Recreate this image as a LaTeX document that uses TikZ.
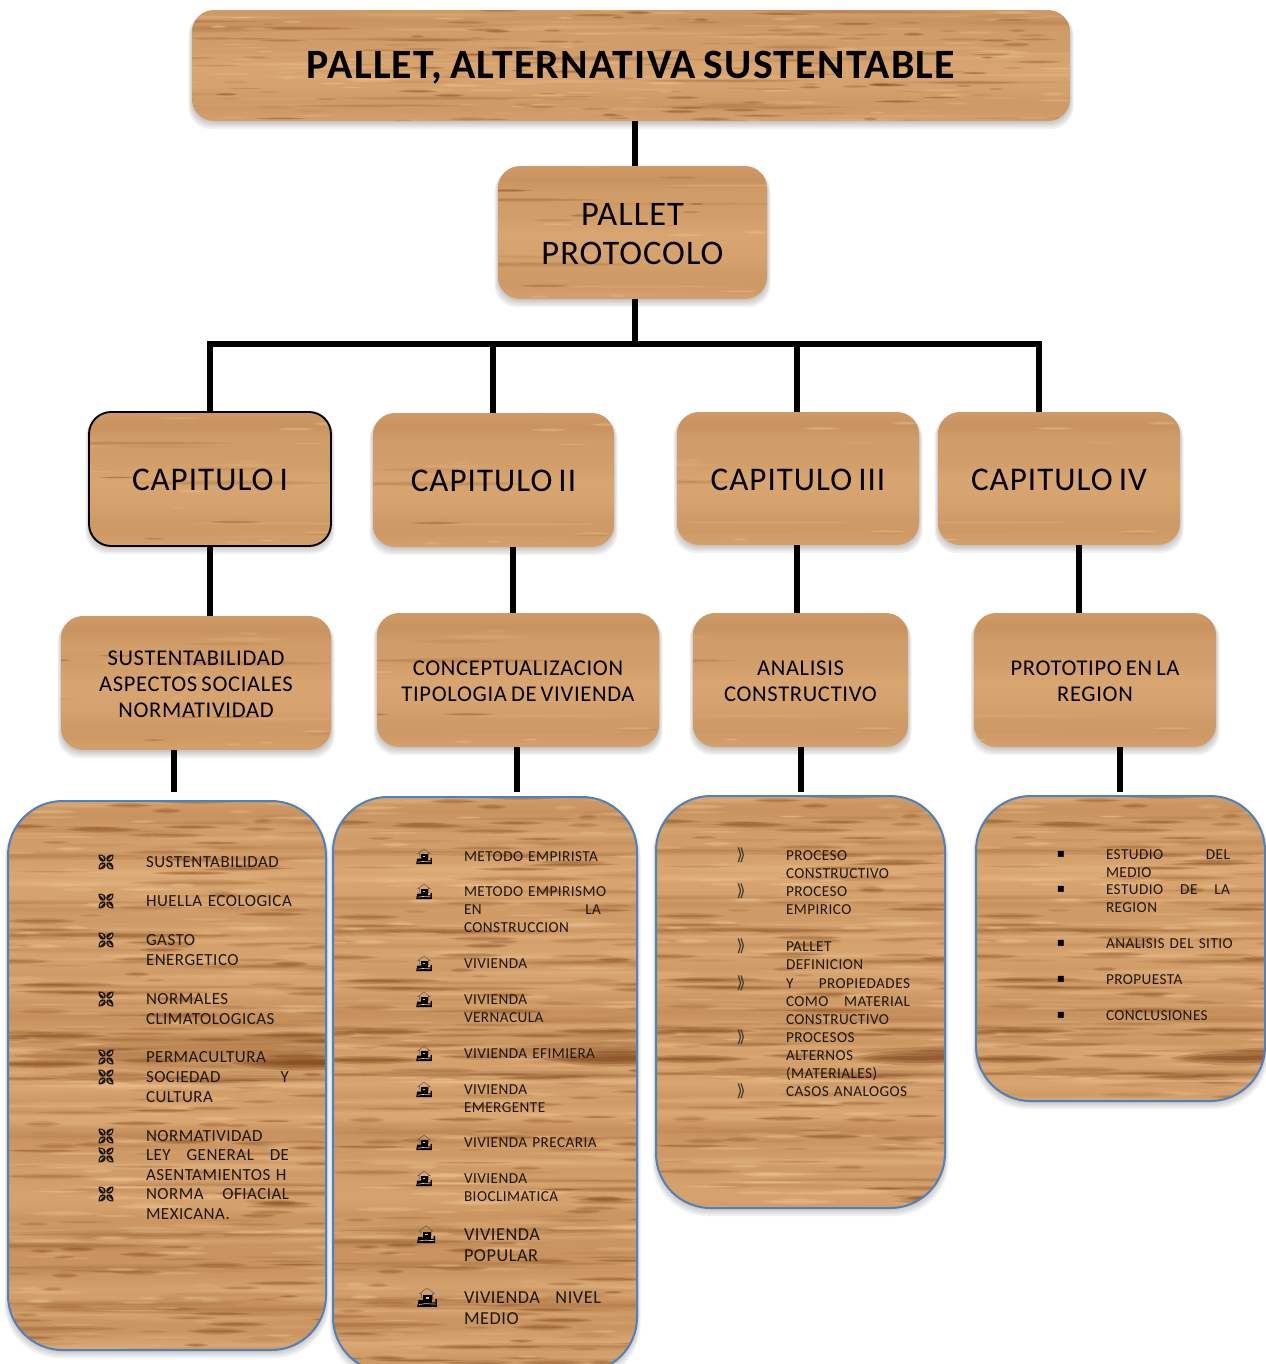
\documentclass[tikz,border=0pt]{standalone}
\usepackage{fontspec}
\setmainfont{Carlito}[LetterSpace=3,WordSpace=0.72]
\newfontfamily\dejavu{DejaVu Sans}
\definecolor{woodbase}{RGB}{208,156,103}
\definecolor{wooddark}{RGB}{135,78,34}
\definecolor{woodlight}{RGB}{238,196,146}
\definecolor{listblue}{RGB}{79,129,189}
\definecolor{bulletink}{RGB}{30,22,14}
% horizontal rows of grain as one shading
\pgfmathsetseed{2024}
\gdef\woodstops{}
\foreach \i in {0,...,79}{%
  \pgfmathsetmacro\pp{\i*1.25}%
  \pgfmathsetmacro\vv{2*rnd-1}%
  \pgfmathsetmacro\vr{.816+\vv*.045}%
  \pgfmathsetmacro\vg{.612+\vv*.052}%
  \pgfmathsetmacro\vb{.404+\vv*.052}%
  \xdef\woodstops{\woodstops rgb(\pp bp)=(\vr,\vg,\vb);}%
}
\edef\declarewood{\noexpand\pgfdeclareverticalshading{woodrows}{100bp}{\woodstops rgb(100bp)=(.816,.612,.404)}}
\declarewood
% one lens-shaped streak: x,y,xr,yr,colour,opacity
\newcommand\lens[6]{%
  \pgfmathsetmacro\la{#3}\pgfmathsetmacro\lb{#4}%
  \fill[#5,fill opacity=#6] (#1-\la,#2)
    .. controls (#1-.4*\la,#2-1.6*\lb) and (#1+.4*\la,#2-1.6*\lb) .. (#1+\la,#2)
    .. controls (#1+.4*\la,#2+1.6*\lb) and (#1-.4*\la,#2+1.6*\lb) .. cycle;
}
\newcommand\softs[6]{% x,y,xr,yr,opacity,colour (three layers)
  \lens{#1}{#2}{#3}{#4*2}{#6}{#5*.3}
  \lens{#1}{#2}{#3*.85}{#4*1.3}{#6}{#5*.4}
  \lens{#1}{#2}{#3*.68}{#4*.6}{#6}{#5*.5}
}
\newcommand\twolens[6]{% x,y,xr,yr,opacity index (x.05),colour
  \pgfmathsetmacro\opa{#5*.05}\pgfmathsetmacro\opb{#5*.08}%
  \lens{#1}{#2}{#3}{#4*1.9}{#6}{\opa}
  \lens{#1}{#2}{#3*.8}{#4*.8}{#6}{\opb}
}
% grain, same seed each time
\newcommand\woodtex[6]{% x0,y0,W,H,scale,N
  \pgfmathsetseed{4711}%
  \pgfmathtruncatemacro\cntlong{#6/4}%
  \foreach \i in {1,...,\cntlong}{%
    \pgfmathsetmacro\px{#1+rnd*#3}%
    \pgfmathsetmacro\py{#2+rnd*#4}%
    \pgfmathsetmacro\ra{(70+rnd*120)*#5}%
    \pgfmathsetmacro\rb{(1+rnd*1.4)*#5}%
    \pgfmathtruncatemacro\op{1+rnd*2.5}%
    \pgfmathtruncatemacro\kind{rnd<.5 ? 1 : 0}%
    \ifnum\kind=1 \def\sc{wooddark}\else \def\sc{woodlight}\fi
    \twolens{\px}{\py}{\ra}{\rb}{\op}{\sc}
  }%
  \foreach \i in {1,...,#6}{%
    \pgfmathsetmacro\px{#1+rnd*#3}%
    \pgfmathsetmacro\py{#2+rnd*#4}%
    \pgfmathsetmacro\ra{(10+rnd*36)*#5}%
    \pgfmathsetmacro\rb{(.5+rnd*.9)*#5}%
    \pgfmathtruncatemacro\op{1+rnd*4.9}%
    \pgfmathtruncatemacro\kind{rnd<.55 ? 1 : 0}%
    \ifnum\kind=1 \def\sc{wooddark}\else \def\sc{woodlight}\fi
    \twolens{\px}{\py}{\ra}{\rb}{\op}{\sc}
  }%
}
% the darker figure that runs across the larger panels
\newcommand\woodband[3]{% x0,ytop,W
  \softs{#1+#3/2}{#2+255}{#3*.95}{9}{.34}{wooddark}
  \softs{#1+#3/2}{#2+238}{#3*.9}{3}{.22}{wooddark}
  \softs{#1+35}{#2+263}{60}{1.8}{.9}{wooddark}
  \softs{#1+#3-25}{#2+262}{70}{3.2}{1}{wooddark}
  \softs{#1+#3*.55}{#2+262}{60}{1.3}{.7}{wooddark}
  \softs{#1+50}{#2+235}{50}{1.4}{.8}{wooddark}
  \softs{#1+#3-35}{#2+234}{50}{1.4}{.75}{wooddark}
  \softs{#1+#3*.6}{#2+240}{45}{1.2}{.7}{wooddark}
  \softs{#1+#3*.5}{#2+285}{#3*.7}{2.2}{.5}{woodlight}
}
\newcommand\woodback[6]{% x0,y0,x1,y1,radius; #6 = extra texture code
  \foreach \k in {1,3,5,7}{%
    \fill[black,fill opacity=.055,rounded corners=#5*.75pt]
      (#1-\k/2,#2+3) rectangle (#3+\k/2,#4+\k+1);
  }%
  \begin{scope}
    \clip[rounded corners=#5*.75pt] (#1,#2) rectangle (#3,#4);
    #6
  \end{scope}
}
\newcommand\woodnode[7]{% name,x0,y0,x1,y1,options,text
  \pgfmathsetmacro\cx{(#2+#4)/2}%
  \pgfmathsetmacro\cy{(#3+#5)/2}%
  \pgfmathsetlengthmacro\nw{(#4-#2)*.75pt}%
  \pgfmathsetlengthmacro\nh{(#5-#3)*.75pt}%
  \node[panel,minimum width=\nw,minimum height=\nh,#6] (#1) at (\cx,\cy) {#7};
}
\newcommand\smallbox[7]{% name,x0,y0,x1,y1,options,text
  \pgfmathtruncatemacro\cnt{(#4-#2)/33*(#5-#3)/10*1.2}%
  \woodback{#2}{#3}{#4}{#5}{22}{%
    \shade[shading=woodrows] (#2,#3) rectangle (#4,#3+4*#5-4*#3);
    \woodtex{#2}{#3}{#4-#2}{#5-#3}{.6}{\cnt}}
  \woodnode{#1}{#2}{#3}{#4}{#5}{rounded corners=16.5pt,#6}{#7}
}
\newcommand\listbox[5]{% name,x0,y0,x1,y1
  \woodback{#2}{#3}{#4}{#5}{55}{%
    \shade[shading=woodrows] (#2,#3) rectangle (#4,#3+575);
    \woodtex{#2}{#3}{330}{575}{1}{420}\woodband{#2}{#3}{#4-#2}}
  \woodnode{#1}{#2}{#3}{#4}{#5}{draw=listblue,line width=1.5pt,rounded corners=41pt}{}
}
\newcommand\jl[1]{\leavevmode\hbox to\tw{#1}}
\newcommand\litem[6]{% name,style,x,ytop,width,text
  \pgfmathsetlengthmacro\tw{#5*.75pt}%
  \pgfmathsetlengthmacro\twx{(#5+40)*.75pt}%
  \node[itemtext,#2,text width=\twx] (#1) at (#3,#4) {#6};
}
\newcommand\dn[1]{\rule{0pt}{#1}}
\tikzset{
  panel/.style={inner sep=0pt,outer sep=0pt,align=center,text=black},
  conn/.style={draw=black,line width=4pt},
  bus/.style={draw=black,line width=3.8pt},
  titletext/.style={font=\fontsize{31.3}{36}\selectfont\bfseries},
  prototext/.style={font=\fontsize{25.8}{29.2}\selectfont},
  captext/.style={font=\fontsize{24.8}{29}\selectfont},
  subtext/.style={font=\fontsize{16.9}{19.5}\selectfont},
  itemtext/.style={anchor=north west,inner sep=0pt,outer sep=0pt,align=left,text=bulletink},
  itema/.style={font=\fontsize{12.7}{14.65}\selectfont},
  itemb/.style={font=\fontsize{11.4}{13.5}\selectfont,yshift=-.5pt},
  itemc/.style={font=\fontsize{13.7}{16}\selectfont,yshift=-.4pt},
  leafbullet/.pic={
    \foreach \a in {45,135,225,315}{
      \begin{scope}[rotate=\a]
        \fill[bulletink] (1.2,0) .. controls (2.6,4) and (7,4.2) .. (10.6,0) .. controls (7,-4.2) and (2.6,-4) .. (1.2,0) -- cycle;
        \fill[woodbase] (3,0) .. controls (4.4,2.2) and (6.6,2.2) .. (8.8,0) .. controls (6.6,-.1) and (4.4,-.1) .. (3,0) -- cycle;
      \end{scope}
    }
  },
  housebullet/.pic={
    \draw[bulletink!70,line width=.4pt] (-4.4,0) -- (-4.4,-3.4) -- (-6,-3.4) -- (0,-8) -- (6,-3.4) -- (4.4,-3.4) -- (4.4,1);
    \fill[black] (-3,-2.6) rectangle (4.2,3.6);
    \fill[woodlight] (-.6,-1) rectangle (1.4,.4);
    \fill[black] (-7.8,7) -- (-6.8,1.6) -- (-3,1.6) -- (-3,3.4) -- (6.6,3.4) -- (6.6,.8) -- (7.9,.8) -- (7.9,7) -- cycle;
    \draw[woodlight,line width=.5pt] (-6.4,5.2) -- (-1.4,4.5) -- (7.2,4.9);
  },
}
\begin{document}
\begin{tikzpicture}[x=.75pt,y=-.75pt]
\useasboundingbox (0,0) rectangle (1265,1364);
\fill[white] (0,0) rectangle (1265,1364);

\smallbox{title}{192}{10}{1070}{121}{titletext}{\dn{23pt}PALLET, ALTERNATIVA SUSTENTABLE}
\smallbox{proto}{498}{166}{767}{299}{prototext}{\dn{18.5pt}PALLET\\PROTOCOLO}

\smallbox{cap1}{89}{412}{331}{546}{captext,draw=black,line width=1.4pt}{\dn{18pt}CAPITULO I}
\smallbox{cap2}{373}{413}{614}{547}{captext}{\dn{18pt}CAPITULO II}
\smallbox{cap3}{677}{412}{919}{545}{captext}{\dn{18pt}CAPITULO III}
\smallbox{cap4}{938}{412}{1180}{545}{captext}{\dn{18pt}CAPITULO IV}

\smallbox{sub1}{61}{616}{331}{750}{subtext}{\dn{13pt}SUSTENTABILIDAD\\ASPECTOS SOCIALES\\NORMATIVIDAD}
\smallbox{sub2}{377}{613}{659}{747}{subtext}{\dn{13pt}CONCEPTUALIZACION\\TIPOLOGIA DE VIVIENDA}
\smallbox{sub3}{693}{613}{908}{747}{subtext}{\dn{13pt}ANALISIS\\CONSTRUCTIVO}
\smallbox{sub4}{974}{613}{1216}{747}{subtext}{\dn{13pt}PROTOTIPO EN LA\\REGION}

\listbox{list1}{8}{801}{326}{1350}
\listbox{list2}{333}{797}{637}{1372}
\listbox{list3}{656}{796}{945}{1208}
\listbox{list4}{976}{796}{1265}{1101}

% connectors
\coordinate (hub) at (635,344);
\coordinate (j1) at (210,344);
\coordinate (j2) at (493,344);
\coordinate (j3) at (797,344);
\coordinate (j4) at (1039,344);
\coordinate (d1) at (210,580);
\coordinate (d2) at (513,580);
\coordinate (d3) at (797,580);
\coordinate (d4) at (1079,580);
\coordinate (e1) at (174,792);
\coordinate (e2) at (517,792);
\coordinate (e3) at (801,792);
\coordinate (e4) at (1120,792);
\draw[conn] (hub |- title.south) -- (hub |- proto.north);
\draw[conn] (hub |- proto.south) -- (hub);
\draw[bus] (j1 |- cap1.north) -- (j1) -- (j4) -- (j4 |- cap4.north);
\draw[conn] (j2) -- (j2 |- cap2.north);
\draw[conn] (j3) -- (j3 |- cap3.north);
\draw[conn] (d1 |- cap1.south) -- (d1 |- sub1.north);
\draw[conn] (d2 |- cap2.south) -- (d2 |- sub2.north);
\draw[conn] (d3 |- cap3.south) -- (d3 |- sub3.north);
\draw[conn] (d4 |- cap4.south) -- (d4 |- sub4.north);
\draw[conn] (e1 |- sub1.south) -- (e1);
\draw[conn] (e2 |- sub2.south) -- (e2);
\draw[conn] (e3 |- sub3.south) -- (e3);
\draw[conn] (e4 |- sub4.south) -- (e4);

% list 1
\foreach \yy in {862,901,940,999,1057,1077,1136,1155,1194}{\pic at (106,\yy) {leafbullet};}
\litem{a1}{itema}{146}{856.5}{143}{SUSTENTABILIDAD}
\litem{a2}{itema}{146}{895.5}{143}{HUELLA ECOLOGICA}
\litem{a3}{itema}{146}{934.5}{143}{GASTO\\ENERGETICO}
\litem{a4}{itema}{146}{993.5}{143}{NORMALES\\CLIMATOLOGICAS}
\litem{a5}{itema}{146}{1051.5}{143}{PERMACULTURA}
\litem{a6}{itema}{146}{1071.5}{143}{\jl{SOCIEDAD\hfil Y}\\CULTURA}
\litem{a7}{itema}{146}{1130.5}{143}{NORMATIVIDAD}
\litem{a8}{itema}{146}{1149.5}{143}{\jl{LEY\hfil GENERAL\hfil DE}\\ASENTAMIENTOS H}
\litem{a9}{itema}{146}{1188.5}{143}{\jl{NORMA\hfil OFIACIAL}\\MEXICANA.}

% list 2
\foreach \yy in {857,892,964,1000,1054,1090,1143,1179}{\pic at (424,\yy) {housebullet};}
\pic[scale=1.15] at (426,1235) {housebullet};
\pic[scale=1.25] at (427,1298) {housebullet};
\litem{b1}{itemb}{464}{851}{137}{METODO EMPIRISTA}
\litem{b2}{itemb}{464}{886}{137}{METODO EMPIRISMO\\\jl{EN\hfil LA}\\CONSTRUCCION}
\litem{b3}{itemb}{464}{958}{137}{VIVIENDA}
\litem{b4}{itemb}{464}{994}{137}{VIVIENDA\\VERNACULA}
\litem{b5}{itemb}{464}{1048}{137}{VIVIENDA EFIMIERA}
\litem{b6}{itemb}{464}{1084}{137}{VIVIENDA\\EMERGENTE}
\litem{b7}{itemb}{464}{1137}{137}{VIVIENDA PRECARIA}
\litem{b8}{itemb}{464}{1173}{137}{VIVIENDA\\BIOCLIMATICA}
\litem{b9}{itemc}{464}{1228}{137}{VIVIENDA\\POPULAR}
\litem{b10}{itemc}{464}{1291}{137}{\jl{VIVIENDA\hfil NIVEL}\\MEDIO}

% list 3
\foreach \nm/\yy in {c1/855,c2/891,c3/946,c4/983,c5/1037,c6/1091}{
  \node[inner sep=0pt,text=bulletink!85,font=\dejavu\fontsize{12.5}{14}\selectfont] (bul\nm) at (741,\yy) {⟫};
}
\litem{c1}{itemb}{786}{850}{124}{PROCESO\\CONSTRUCTIVO}
\litem{c2}{itemb}{786}{886}{124}{PROCESO\\EMPIRICO}
\litem{c3}{itemb}{786}{941}{124}{PALLET\\DEFINICION}
\litem{c4}{itemb}{786}{978}{124}{\jl{Y\hfil PROPIEDADES}\\\jl{COMO\hfil MATERIAL}\\CONSTRUCTIVO}
\litem{c5}{itemb}{786}{1032}{124}{PROCESOS\\ALTERNOS\\(MATERIALES)}
\litem{c6}{itemb}{786}{1086}{124}{CASOS ANALOGOS}

% list 4
\foreach \nm/\yy in {d1/854,d2/889,d3/943,d4/979,d5/1015}{
  \node[inner sep=0pt,text=black,font=\dejavu\fontsize{9}{11}\selectfont] (bul\nm) at (1061,\yy) {▪};
}
\litem{n1}{itemb}{1106}{849}{124}{\jl{ESTUDIO\hfil DEL}\\MEDIO}
\litem{n2}{itemb}{1106}{884}{124}{\jl{ESTUDIO\hfil DE\hfil LA}\\REGION}
\litem{n3}{itemb}{1106}{938}{124}{ANALISIS DEL SITIO}
\litem{n4}{itemb}{1106}{974}{124}{PROPUESTA}
\litem{n5}{itemb}{1106}{1010}{124}{CONCLUSIONES}
\end{tikzpicture}
\end{document}
